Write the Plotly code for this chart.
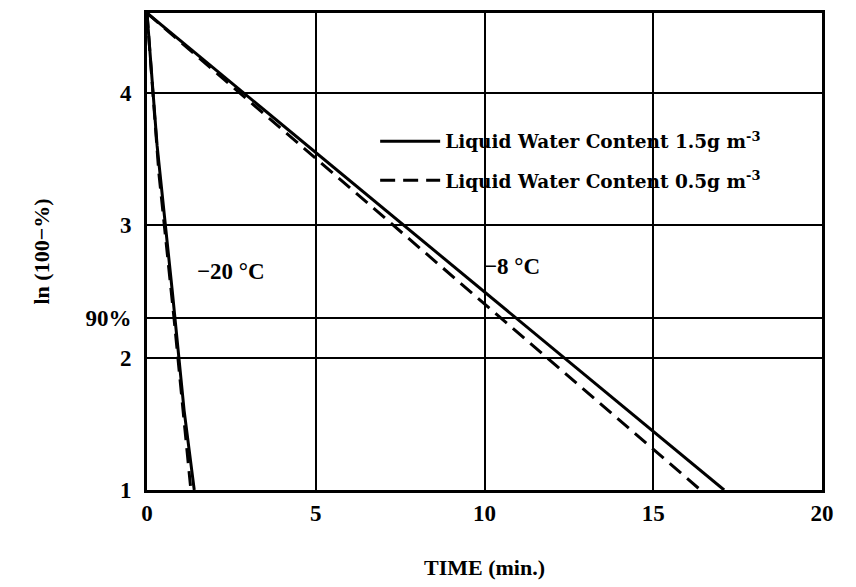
import plotly.graph_objects as go

# Data
time_m8_lwc15 = [0, 17.1]
ln_m8_lwc15 = [4.605, 1.0]
time_m8_lwc05 = [0, 16.4]
ln_m8_lwc05 = [4.605, 1.0]
time_m20_lwc15 = [0, 0.3, 0.75, 1.1, 1.4]
ln_m20_lwc15 = [4.605, 3.6, 2.5, 1.6, 1.0]
time_m20_lwc05 = [0, 0.35, 0.8, 1.3]
ln_m20_lwc05 = [4.605, 3.4, 2.3, 1.0]

y_tickvals = [1, 2, 2.303, 3, 4]
y_ticktext = ["<b>1</b>", "<b>2</b>", "<b>90%</b>", "<b>3</b>", "<b>4</b>"]
x_tickvals = [0, 5, 10, 15, 20]
x_ticktext = ["<b>0</b>", "<b>5</b>", "<b>10</b>", "<b>15</b>", "<b>20</b>"]

FONT = "Liberation Serif"
LEG_FONT = "DejaVu Serif"

fig = go.Figure()
fig.add_trace(go.Scatter(x=time_m8_lwc15, y=ln_m8_lwc15, mode="lines",
                         line=dict(color="black", width=3), legendgroup="a",
                         name="<b>Liquid Water Content 1.5g m<sup>-3</sup></b>"))
fig.add_trace(go.Scatter(x=time_m8_lwc05, y=ln_m8_lwc05, mode="lines",
                         line=dict(color="black", width=3, dash="15px,8px"), legendgroup="b",
                         name="<b>Liquid Water Content 0.5g m<sup>-3</sup></b>"))
fig.add_trace(go.Scatter(x=time_m20_lwc15, y=ln_m20_lwc15, mode="lines",
                         line=dict(color="black", width=3), showlegend=False))
fig.add_trace(go.Scatter(x=time_m20_lwc05, y=ln_m20_lwc05, mode="lines",
                         line=dict(color="black", width=3, dash="15px,8px"), showlegend=False))

fig.add_annotation(x=2.5, y=2.65, text="<b>−20 °C</b>", showarrow=False,
                   font=dict(family=FONT, size=23, color="black"))
fig.add_annotation(x=10.8, y=2.69, text="<b>−8 °C</b>", showarrow=False,
                   font=dict(family=FONT, size=23, color="black"))

# white patch behind the legend text hiding the gridlines (as in the original)
fig.add_shape(type="rect", xref="paper", yref="paper", x0=0.434, x1=0.967, y0=0.612, y1=0.757,
              fillcolor="white", line=dict(width=0), layer="between")

fig.update_layout(
    width=856, height=587,
    margin=dict(l=147, r=34, t=10, b=95),
    paper_bgcolor="white", plot_bgcolor="white",
    font=dict(family=FONT, color="black"),
    legend=dict(x=0.338, y=0.77, xanchor="left", yanchor="top",
                bgcolor="rgba(0,0,0,0)", font=dict(family=LEG_FONT, size=18.5, color="black"),
                itemwidth=60, tracegroupgap=12),
    showlegend=True,
)
fig.update_xaxes(range=[0, 20], tickvals=x_tickvals, ticktext=x_ticktext,
                 showgrid=True, gridcolor="black", gridwidth=2,
                 showline=True, linecolor="black", linewidth=3, mirror=True,
                 zeroline=False, ticks="",
                 tickfont=dict(family=FONT, size=23, color="black"),
                 title=dict(text="<b>TIME (min.)</b>", font=dict(family=FONT, size=22, color="black"),
                            standoff=36))
fig.update_yaxes(range=[1, 4.605], tickvals=y_tickvals, ticktext=y_ticktext,
                 showgrid=True, gridcolor="black", gridwidth=2,
                 showline=True, linecolor="black", linewidth=3, mirror=True,
                 zeroline=False, ticks="", ticklabelstandoff=8,
                 tickfont=dict(family=FONT, size=23, color="black"),
                 title=dict(text="<b>ln (100−%)</b>", font=dict(family=FONT, size=22, color="black"),
                            standoff=30))

fig.write_html("out.html")
